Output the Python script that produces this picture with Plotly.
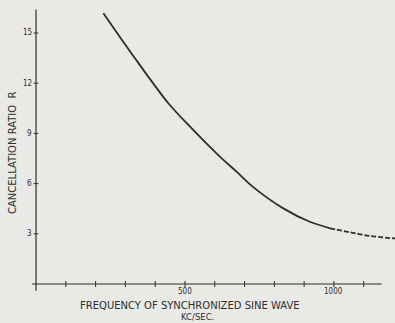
import plotly.graph_objects as go

# Data
freq_solid = [226, 332, 444, 517, 617, 673, 725, 830, 919, 987]
ratio_solid = [16.18, 13.49, 10.80, 9.40, 7.61, 6.71, 5.85, 4.52, 3.72, 3.33]
freq_dash = [987, 1054, 1121, 1205]
ratio_dash = [3.33, 3.09, 2.87, 2.72]

y_ticks = [3, 6, 9, 12, 15]
y_tick_labels = ["3", "6", "9", "12", "15"]
x_ticks = [100, 200, 300, 400, 500, 600, 700, 800, 900, 1000, 1100]
x_label_vals = [500, 1000]
x_label_text = ["500", "1000"]

x_title = "FREQUENCY OF SYNCHRONIZED SINE WAVE"
x_sub = "KC/SEC."
y_title = "CANCELLATION RATIO &nbsp;R"

ink = "#2e2e2e"
bg = "#e9e9e6"

fig = go.Figure()
fig.add_trace(go.Scatter(x=freq_solid, y=ratio_solid, mode="lines",
                         line=dict(color=ink, width=1.8, shape="spline", smoothing=0.8),
                         showlegend=False, hoverinfo="skip"))
fig.add_trace(go.Scatter(x=freq_dash, y=ratio_dash, mode="lines",
                         line=dict(color=ink, width=1.8, dash="5px,2px", shape="spline", smoothing=0.8),
                         showlegend=False, hoverinfo="skip"))

# axis lines
fig.add_shape(type="line", x0=0, x1=0, y0=-0.4, y1=16.4, line=dict(color=ink, width=1.2))
fig.add_shape(type="line", x0=-14, x1=1160, y0=0, y1=0, line=dict(color=ink, width=1.2))

# y ticks (cross ticks)
for v in y_ticks:
    fig.add_shape(type="line", x0=-8, x1=8, y0=v, y1=v, line=dict(color=ink, width=1))
for v, t in zip(y_ticks, y_tick_labels):
    fig.add_annotation(x=-8, y=v, text=t, showarrow=False, xanchor="right", yanchor="middle",
                       font=dict(family="DejaVu Sans Condensed, DejaVu Sans", size=8, color=ink))

# x ticks
for v in x_ticks:
    fig.add_shape(type="line", x0=v, x1=v, y0=-0.18, y1=0.18, line=dict(color=ink, width=1))
for v, t in zip(x_label_vals, x_label_text):
    fig.add_annotation(x=v, y=0, text=t, showarrow=False, xanchor="center", yanchor="top",
                       yshift=-1, font=dict(family="DejaVu Sans Condensed, DejaVu Sans", size=8, color=ink))

fig.add_annotation(xref="paper", yref="paper", x=190/395, y=1-305/323, text=x_title,
                   showarrow=False, xanchor="center", yanchor="middle",
                   font=dict(family="DejaVu Sans", size=10, color=ink))
fig.add_annotation(xref="paper", yref="paper", x=197/395, y=1-317/323, text=x_sub,
                   showarrow=False, xanchor="center", yanchor="middle",
                   font=dict(family="DejaVu Sans", size=8.5, color=ink))
fig.add_annotation(xref="paper", yref="paper", x=13/395, y=1-153/323, text=y_title,
                   showarrow=False, xanchor="center", yanchor="middle", textangle=-90,
                   font=dict(family="DejaVu Sans", size=10, color=ink))

fig.update_xaxes(range=[-121, 1205], visible=False, fixedrange=True)
fig.update_yaxes(range=[-2.33, 16.97], visible=False, fixedrange=True)
fig.update_layout(width=395, height=323, margin=dict(l=0, r=0, t=0, b=0),
                  paper_bgcolor=bg, plot_bgcolor=bg)

fig.write_html("out.html", config={"displayModeBar": False},
               post_script="document.body.style.margin='0';document.body.style.background='%s';" % bg)
